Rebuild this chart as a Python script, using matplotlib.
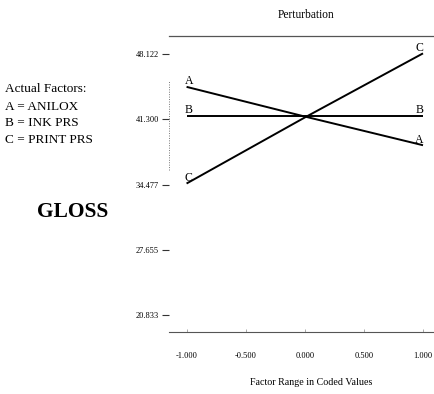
import matplotlib
matplotlib.use("Agg")
import matplotlib.pyplot as plt

plt.rcParams['font.family'] = ['Liberation Serif', 'DejaVu Serif']

x_coded = [-1.0, 0.0, 1.0]
series_A = [44.7, 41.6, 38.6]
series_B = [41.7, 41.7, 41.7]
series_C = [34.6, 41.5, 48.2]
series_names = ['A', 'B', 'C']
y_ticks = [20.833, 27.655, 34.477, 41.300, 48.122]
x_ticks = [-1.0, -0.5, 0.0, 0.5, 1.0]
x_tick_labels = ['-1.000', '-0.500', '0.000', '0.500', '1.000']
factor_lines = ['Actual Factors:', 'A = ANILOX', 'B = INK PRS', 'C = PRINT PRS']

fig = plt.figure(figsize=(4.34, 3.94), dpi=100)
ax = fig.add_axes([0.389, 0.157, 0.611, 0.752])

for name, vals in zip(series_names, [series_A, series_B, series_C]):
    ax.plot(x_coded, vals, color='black', lw=1.4, solid_capstyle='butt')
    ax.text(x_coded[0] + 0.02, vals[0] - 0.05, name, ha='center', va='bottom', fontsize=8.5)
    ax.text(x_coded[-1] - 0.03, vals[-1] - 0.05, name, ha='center', va='bottom', fontsize=8.5)

ax.set_xlim(-1.15, 1.093)
ax.set_ylim(19.07, 50.03)

ax.set_yticks(y_ticks)
ax.set_yticklabels([f'{v:.3f}' for v in y_ticks], fontsize=6)
ax.set_xticks(x_ticks)
ax.set_xticklabels(x_tick_labels, fontsize=6)

ax.tick_params(axis='y', direction='out', length=5, width=0.8, pad=2, color='#333333')
ax.tick_params(axis='x', direction='in', length=2, width=0.5, pad=14, color='#888888')

for s in ['left', 'right']:
    ax.spines[s].set_visible(False)
ax.spines['top'].set_color('#555555')
ax.spines['top'].set_linewidth(0.9)
ax.spines['bottom'].set_color('#555555')
ax.spines['bottom'].set_linewidth(0.8)

# faint dotted remnants of the vertical axis
ax.plot([-1.15, -1.15], [36.0, 45.3], color='#777777', lw=0.7, ls=(0, (1, 1.5)),
        clip_on=False)

fig.text(0.705, 0.962, 'Perturbation', ha='center', va='center', fontsize=8.3)
fig.text(0.717, 0.028, 'Factor Range in Coded Values', ha='center', va='center', fontsize=7.2)

ys = [0.774, 0.728, 0.688, 0.645]
for t, yy in zip(factor_lines, ys):
    fig.text(0.012, yy, t, ha='left', va='center', fontsize=9.5)

fig.text(0.085, 0.462, 'GLOSS', ha='left', va='center', fontsize=15.5, fontweight='bold')

fig.savefig('out.png', dpi=100)
